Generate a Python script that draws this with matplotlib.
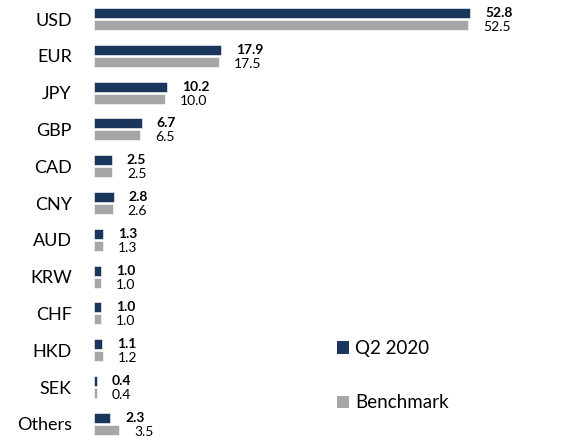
import matplotlib
matplotlib.use("Agg")
import matplotlib.pyplot as plt
from matplotlib.patches import Patch
import numpy as np

categories = ["USD", "EUR", "JPY", "GBP", "CAD", "CNY", "AUD", "KRW", "CHF", "HKD", "SEK", "Others"]
q2_2020 = [52.8, 17.9, 10.2, 6.7, 2.5, 2.8, 1.3, 1.0, 1.0, 1.1, 0.4, 2.3]
benchmark = [52.5, 17.5, 10.0, 6.5, 2.5, 2.6, 1.3, 1.0, 1.0, 1.2, 0.4, 3.5]
series_names = ["Q2 2020", "Benchmark"]

navy = "#1B365D"
grey = "#A6A6A6"
plt.rcParams['font.family'] = ['Lato', 'DejaVu Sans']

W, H = 576, 441
fig = plt.figure(figsize=(W / 100, H / 100), dpi=100)
left_px = 94
right_px = 570
ax = fig.add_axes([left_px / W, 0, (right_px - left_px) / W, 1])

pxu = (470 - 94) / 52.8
ax.set_xlim(0, (right_px - left_px) / pxu)
row = 36.8
ax.set_ylim((H - 19) / row, -19 / row)

y = np.arange(len(categories))
off = 6 / row
h = 10 / row
ax.barh(y - off, q2_2020, height=h, color=navy, edgecolor="white", linewidth=0.4)
ax.barh(y + off, benchmark, height=h, color=grey, edgecolor="white", linewidth=0.4)

for i in range(len(categories)):
    ax.annotate(f"{q2_2020[i]:.1f}", (q2_2020[i], y[i] - off), xytext=(10.8, 0),
                textcoords="offset points", ha="left", va="center", fontsize=10,
                fontweight="bold", color="black")
    ax.annotate(f"{benchmark[i]:.1f}", (benchmark[i], y[i] + off), xytext=(10.8, -1.5),
                textcoords="offset points", ha="left", va="center", fontsize=10,
                color="black")

ax.set_yticks(y)
ax.set_yticklabels(categories, fontsize=13)
ax.tick_params(axis="y", length=0, pad=16)
ax.set_xticks([])
for s in ax.spines.values():
    s.set_visible(False)

handles = [Patch(facecolor=navy), Patch(facecolor=grey)]
leg = fig.legend(handles, series_names, loc="upper left", bbox_to_anchor=(337 / W, 1 - 340 / H),
                 frameon=False, fontsize=13.5, handlelength=0.65, handleheight=0.65,
                 handletextpad=0.3, labelspacing=2.0, borderaxespad=0, borderpad=0)

fig.savefig("out.png", dpi=100)
